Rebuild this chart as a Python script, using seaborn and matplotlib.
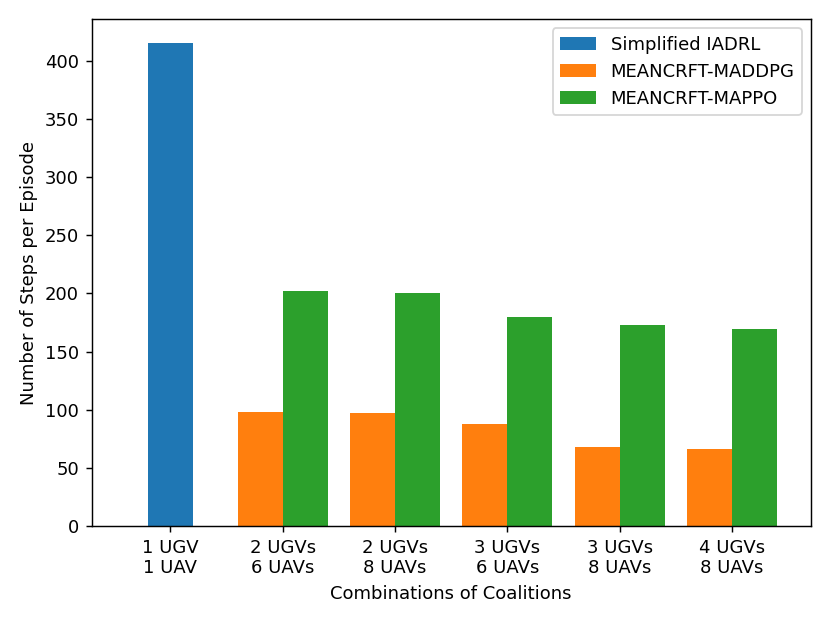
import matplotlib
matplotlib.use("Agg")
import matplotlib.pyplot as plt
import seaborn as sns
import pandas as pd

coalitions = ["1 UGV\n1 UAV", "2 UGVs\n6 UAVs", "2 UGVs\n8 UAVs",
              "3 UGVs\n6 UAVs", "3 UGVs\n8 UAVs", "4 UGVs\n8 UAVs"]
methods = ["Simplified IADRL", "MEANCRFT-MADDPG", "MEANCRFT-MAPPO"]
iadrl_steps = [415]
maddpg_steps = [98, 97.5, 88, 68, 66]
mappo_steps = [202.5, 200.5, 180, 172.5, 169.5]
colors = ["#1f77b4", "#ff7f0e", "#2ca02c"]

rows = []
for i, v in enumerate(iadrl_steps):
    rows.append({"pos": float(i), "steps": v, "method": methods[0]})
for i, v in enumerate(maddpg_steps):
    rows.append({"pos": i + 1 - 0.2, "steps": v, "method": methods[1]})
for i, v in enumerate(mappo_steps):
    rows.append({"pos": i + 1 + 0.2, "steps": v, "method": methods[2]})
df = pd.DataFrame(rows)

fig = plt.figure(figsize=(830 / 130, 623 / 130), dpi=130)
ax = fig.add_axes([91.7 / 830, 1 - 526 / 623, (810.7 - 91.7) / 830, (526 - 19.3) / 623])

sns.barplot(data=df, x="pos", y="steps", hue="method", hue_order=methods,
            palette=colors, native_scale=True, dodge=False, width=1.0,
            saturation=1, errorbar=None, linewidth=0, ax=ax)

ax.set_xticks(range(len(coalitions)))
ax.set_xticklabels(coalitions)
ax.set_xlim(-0.7, 5.7)
ax.set_ylim(0, 435.75)
ax.set_xlabel("Combinations of Coalitions")
ax.set_ylabel("Number of Steps per Episode")
ax.legend(loc="upper right")

fig.savefig("out.png", dpi=130)
